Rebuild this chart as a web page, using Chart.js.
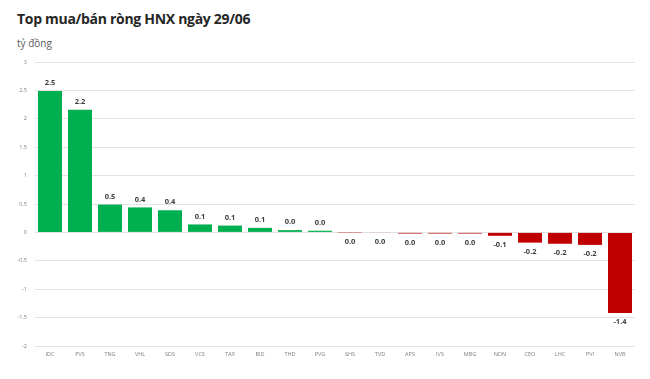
<!DOCTYPE html>
<html lang="vi">
<head>
    <meta charset="UTF-8">
    <title>Top mua/bán ròng HNX</title>
    <script src="https://cdn.jsdelivr.net/npm/chart.js"></script>
    <style>
        body { margin: 0; background: #fff; width: 650px; height: 379px; overflow: hidden; position: relative; font-family: "Open Sans", sans-serif; }
        #title { position: absolute; left: 17px; top: 9px; font-size: 14px; letter-spacing: -0.3px; font-weight: bold; color: #262626; white-space: nowrap; }
        #unit { position: absolute; left: 17px; top: 36px; font-size: 10px; color: #595959; }
        #wrap { position: absolute; left: 0; top: 0; width: 650px; height: 379px; }
    </style>
</head>
<body>
    <div id="title">Top mua/bán ròng HNX ngày 29/06</div>
    <div id="unit">tỷ đồng</div>
    <div id="wrap"><canvas id="chart" width="650" height="379"></canvas></div>

    <script>
        // values
        const tickers = ['IDC', 'PVS', 'TNG', 'VHL', 'SDS', 'VCS', 'TA9', 'BID', 'THD', 'PVG',
                         'SHS', 'TVD', 'APS', 'IVS', 'MBG', 'NDN', 'CEO', 'LHC', 'PVI', 'NVB'];
        const netValues = [2.49, 2.16, 0.49, 0.44, 0.39, 0.14, 0.12, 0.08, 0.04, 0.03,
                           -0.003, -0.01, -0.02, -0.02, -0.02, -0.06, -0.18, -0.2, -0.22, -1.42];
        const yMin = -2, yMax = 3, yStep = 0.5;

        const green = '#00B050';
        const red = '#C00000';

        // value labels above / below each bar
        const barLabels = {
            id: 'barLabels',
            afterDatasetsDraw(chart) {
                const ctx = chart.ctx;
                const meta = chart.getDatasetMeta(0);
                ctx.save();
                ctx.font = 'bold 7.5px "Open Sans", sans-serif';
                ctx.fillStyle = '#404040';
                ctx.textAlign = 'center';
                ctx.textBaseline = 'middle';
                meta.data.forEach((bar, i) => {
                    const v = netValues[i];
                    let txt = Math.abs(v) < 0.05 ? '0.0' : v.toFixed(1);
                    const y = v >= 0 ? bar.y - 8 : bar.y + 9;
                    ctx.fillText(txt, bar.x, y);
                });
                ctx.restore();
            }
        };

        new Chart(document.getElementById('chart'), {
            type: 'bar',
            data: {
                labels: tickers,
                datasets: [{
                    data: netValues,
                    backgroundColor: netValues.map(v => v >= 0 ? green : red),
                    borderWidth: 0,
                    categoryPercentage: 0.8,
                    barPercentage: 1.0
                }]
            },
            options: {
                responsive: false,
                animation: false,
                layout: { padding: { top: 62, right: 15, left: 0, bottom: 0 } },
                plugins: { legend: { display: false }, tooltip: { enabled: false } },
                scales: {
                    x: {
                        grid: { display: false, drawTicks: false },
                        border: { display: false },
                        ticks: { color: '#7f7f7f', font: { size: 5.5, family: '"Open Sans", sans-serif' }, padding: 5, maxRotation: 0, autoSkip: false },
                        afterFit(scale) { scale.height = 33; }
                    },
                    y: {
                        min: yMin,
                        max: yMax,
                        grid: { color: '#e3e3e3', lineWidth: 1, drawTicks: false },
                        border: { display: false },
                        ticks: {
                            stepSize: yStep,
                            color: '#7f7f7f',
                            font: { size: 5.5, family: '"Open Sans", sans-serif' },
                            padding: 8,
                            callback: v => String(v)
                        },
                        afterFit(scale) { scale.width = 35; }
                    }
                }
            },
            plugins: [barLabels]
        });
    </script>
</body>
</html>
